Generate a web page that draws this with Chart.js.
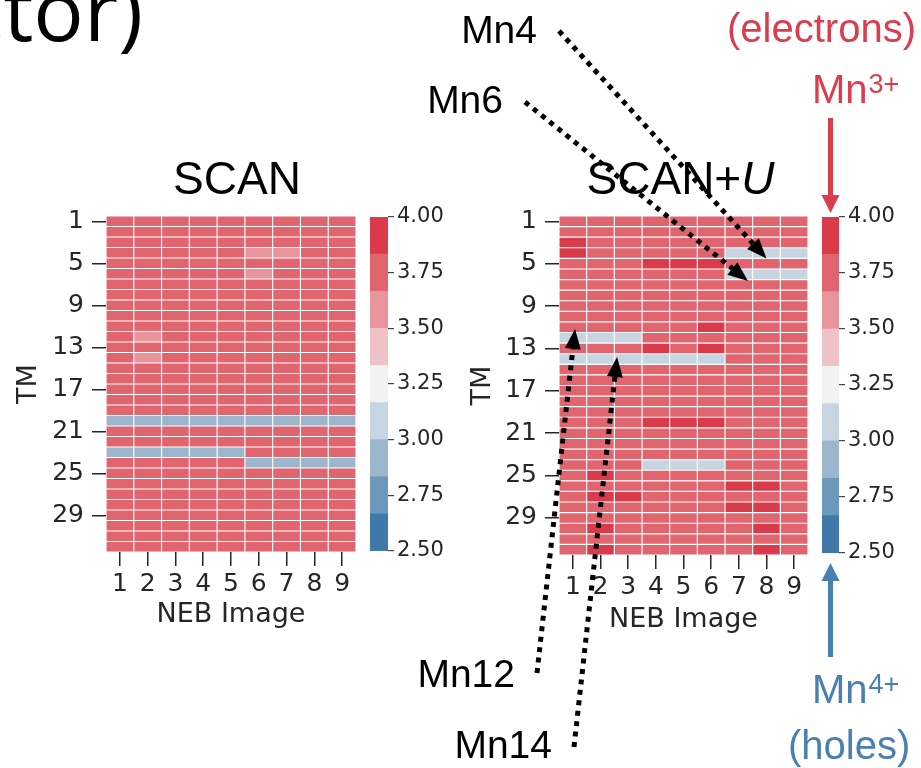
<!DOCTYPE html>
<html>
<head>
<meta charset="utf-8">
<script src="https://cdn.jsdelivr.net/npm/chart.js@4.4.1/dist/chart.umd.min.js"></script>
<style>
  html, body { margin: 0; padding: 0; background: #fff; }
  #figure { position: relative; width: 921px; height: 768px; overflow: hidden; background: #fff; }
  #figure canvas { position: absolute; left: 0; top: 0; }
</style>
</head>
<body>
<div id="figure">
  <canvas id="scan-map" width="921" height="768"></canvas>
  <canvas id="scan-bar" width="921" height="768"></canvas>
  <canvas id="scanu-map" width="921" height="768"></canvas>
  <canvas id="scanu-bar" width="921" height="768"></canvas>
</div>
<script>
// Mn moments per TM site (rows) and NEB image (columns)
const tmLabels = ['1', '2', '3', '4', '5', '6', '7', '8', '9', '10', '11', '12', '13', '14', '15', '16',
  '17', '18', '19', '20', '21', '22', '23', '24', '25', '26', '27', '28', '29', '30', '31', '32'];
const tmTicks = [1, 5, 9, 13, 17, 21, 25, 29];
const nebImages = [1, 2, 3, 4, 5, 6, 7, 8, 9];

const cbMin = 2.5;
const cbMax = 4.0;
const cbTicks = [2.5, 2.75, 3.0, 3.25, 3.5, 3.75, 4.0];
const cbColors = ['#4079a9', '#6b98bb', '#9bb6cd', '#c6d5e1', '#f2f2f2', '#efc2c8', '#e8949b', '#e0656f', '#d93b4a'];

const scanMoments = [
  [3.75, 3.75, 3.75, 3.75, 3.75, 3.75, 3.75, 3.75, 3.75],
  [3.75, 3.75, 3.75, 3.75, 3.75, 3.75, 3.75, 3.75, 3.75],
  [3.75, 3.75, 3.75, 3.75, 3.75, 3.75, 3.75, 3.75, 3.75],
  [3.75, 3.75, 3.75, 3.75, 3.75, 3.60, 3.60, 3.75, 3.75],
  [3.75, 3.75, 3.75, 3.75, 3.75, 3.75, 3.75, 3.75, 3.75],
  [3.75, 3.75, 3.75, 3.75, 3.75, 3.60, 3.75, 3.75, 3.75],
  [3.75, 3.75, 3.75, 3.75, 3.75, 3.75, 3.75, 3.75, 3.75],
  [3.75, 3.75, 3.75, 3.75, 3.75, 3.75, 3.75, 3.75, 3.75],
  [3.75, 3.75, 3.75, 3.75, 3.75, 3.75, 3.75, 3.75, 3.75],
  [3.75, 3.75, 3.75, 3.75, 3.75, 3.75, 3.75, 3.75, 3.75],
  [3.75, 3.75, 3.75, 3.75, 3.75, 3.75, 3.75, 3.75, 3.75],
  [3.75, 3.60, 3.75, 3.75, 3.75, 3.75, 3.75, 3.75, 3.75],
  [3.75, 3.75, 3.75, 3.75, 3.75, 3.75, 3.75, 3.75, 3.75],
  [3.75, 3.60, 3.75, 3.75, 3.75, 3.75, 3.75, 3.75, 3.75],
  [3.75, 3.75, 3.75, 3.75, 3.75, 3.75, 3.75, 3.75, 3.75],
  [3.75, 3.75, 3.75, 3.75, 3.75, 3.75, 3.75, 3.75, 3.75],
  [3.75, 3.75, 3.75, 3.75, 3.75, 3.75, 3.75, 3.75, 3.75],
  [3.75, 3.75, 3.75, 3.75, 3.75, 3.75, 3.75, 3.75, 3.75],
  [3.75, 3.75, 3.75, 3.75, 3.75, 3.75, 3.75, 3.75, 3.75],
  [2.95, 2.95, 2.95, 2.95, 2.95, 2.95, 2.95, 2.95, 2.95],
  [3.75, 3.75, 3.75, 3.75, 3.75, 3.75, 3.75, 3.75, 3.75],
  [3.75, 3.75, 3.75, 3.75, 3.75, 3.75, 3.75, 3.75, 3.75],
  [2.95, 2.95, 2.95, 2.95, 2.95, 3.75, 3.75, 3.75, 3.75],
  [3.75, 3.75, 3.75, 3.75, 3.75, 2.95, 2.95, 2.95, 2.95],
  [3.75, 3.75, 3.75, 3.75, 3.75, 3.75, 3.75, 3.75, 3.75],
  [3.75, 3.75, 3.75, 3.75, 3.75, 3.75, 3.75, 3.75, 3.75],
  [3.75, 3.75, 3.75, 3.75, 3.75, 3.75, 3.75, 3.75, 3.75],
  [3.75, 3.75, 3.75, 3.75, 3.75, 3.75, 3.75, 3.75, 3.75],
  [3.75, 3.75, 3.75, 3.75, 3.75, 3.75, 3.75, 3.75, 3.75],
  [3.75, 3.75, 3.75, 3.75, 3.75, 3.75, 3.75, 3.75, 3.75],
  [3.75, 3.75, 3.75, 3.75, 3.75, 3.75, 3.75, 3.75, 3.75],
  [3.75, 3.75, 3.75, 3.75, 3.75, 3.75, 3.75, 3.75, 3.75]
];

const scanUMoments = [
  [3.75, 3.75, 3.75, 3.75, 3.75, 3.75, 3.75, 3.75, 3.75],
  [3.75, 3.75, 3.75, 3.75, 3.75, 3.75, 3.75, 3.75, 3.75],
  [3.90, 3.75, 3.75, 3.75, 3.75, 3.75, 3.75, 3.75, 3.75],
  [3.90, 3.75, 3.75, 3.75, 3.75, 3.75, 3.10, 3.10, 3.10],
  [3.75, 3.75, 3.75, 3.90, 3.90, 3.90, 3.75, 3.75, 3.75],
  [3.75, 3.75, 3.75, 3.75, 3.75, 3.75, 3.10, 3.10, 3.10],
  [3.75, 3.75, 3.75, 3.75, 3.75, 3.75, 3.75, 3.75, 3.75],
  [3.75, 3.75, 3.75, 3.75, 3.75, 3.75, 3.75, 3.75, 3.75],
  [3.75, 3.75, 3.75, 3.75, 3.75, 3.75, 3.75, 3.75, 3.75],
  [3.75, 3.75, 3.75, 3.75, 3.75, 3.75, 3.75, 3.75, 3.75],
  [3.75, 3.75, 3.75, 3.75, 3.75, 3.90, 3.75, 3.75, 3.75],
  [3.10, 3.10, 3.10, 3.75, 3.75, 3.75, 3.75, 3.75, 3.75],
  [3.75, 3.75, 3.75, 3.90, 3.75, 3.90, 3.75, 3.75, 3.75],
  [3.10, 3.10, 3.10, 3.10, 3.10, 3.10, 3.75, 3.75, 3.75],
  [3.75, 3.75, 3.75, 3.75, 3.75, 3.75, 3.75, 3.75, 3.75],
  [3.75, 3.75, 3.75, 3.75, 3.75, 3.75, 3.75, 3.75, 3.75],
  [3.75, 3.75, 3.75, 3.75, 3.75, 3.75, 3.75, 3.75, 3.75],
  [3.75, 3.75, 3.75, 3.75, 3.75, 3.75, 3.75, 3.75, 3.75],
  [3.75, 3.75, 3.75, 3.75, 3.75, 3.75, 3.75, 3.75, 3.75],
  [3.75, 3.75, 3.75, 3.90, 3.90, 3.90, 3.75, 3.75, 3.75],
  [3.75, 3.75, 3.75, 3.75, 3.75, 3.75, 3.75, 3.75, 3.75],
  [3.75, 3.75, 3.75, 3.75, 3.75, 3.75, 3.75, 3.75, 3.75],
  [3.75, 3.75, 3.75, 3.75, 3.75, 3.75, 3.75, 3.75, 3.75],
  [3.75, 3.75, 3.75, 3.10, 3.10, 3.10, 3.75, 3.75, 3.75],
  [3.75, 3.90, 3.75, 3.75, 3.75, 3.75, 3.75, 3.75, 3.75],
  [3.75, 3.75, 3.75, 3.75, 3.75, 3.75, 3.90, 3.90, 3.75],
  [3.75, 3.90, 3.90, 3.75, 3.75, 3.75, 3.75, 3.75, 3.75],
  [3.75, 3.75, 3.75, 3.75, 3.75, 3.75, 3.90, 3.90, 3.75],
  [3.75, 3.75, 3.75, 3.75, 3.75, 3.75, 3.75, 3.75, 3.75],
  [3.75, 3.90, 3.75, 3.75, 3.75, 3.75, 3.75, 3.90, 3.75],
  [3.75, 3.75, 3.75, 3.75, 3.75, 3.75, 3.75, 3.75, 3.75],
  [3.75, 3.90, 3.75, 3.75, 3.75, 3.75, 3.75, 3.90, 3.75]
];

// sites singled out in the SCAN+U panel: label and the (image, row) the arrow points at
const siteNames = ['Mn4', 'Mn6', 'Mn12', 'Mn14'];
const siteTargets = [[8.0, 4.5], [7.33, 6.64], [1.08, 11.17], [2.6, 13.8]];

const TEXT = '#262626';
const RED = '#dc3d4c';
const BLUE = '#4a80b0';
const SANS = '"Liberation Sans", Arial, Helvetica, sans-serif';
const TICK_FONT = { family: 'DejaVu Sans', size: 25 };
const AXIS_FONT = { family: 'DejaVu Sans', size: 27 };

function binColor(v) {
  const n = cbColors.length;
  let k = Math.floor((v - cbMin) / (cbMax - cbMin) * n);
  k = Math.max(0, Math.min(n - 1, k));
  return cbColors[k];
}

function dottedArrow(ctx, x0, y0, x1, y1) {
  const a = Math.atan2(y1 - y0, x1 - x0);
  const headLen = 20, headHalf = 8;
  const bx = x1 - headLen * Math.cos(a);
  const by = y1 - headLen * Math.sin(a);
  ctx.save();
  ctx.strokeStyle = '#000';
  ctx.fillStyle = '#000';
  ctx.lineWidth = 5;
  ctx.lineCap = 'butt';
  ctx.setLineDash([5, 5.5]);
  ctx.beginPath();
  ctx.moveTo(x0, y0);
  ctx.lineTo(bx, by);
  ctx.stroke();
  ctx.setLineDash([]);
  ctx.beginPath();
  ctx.moveTo(x1, y1);
  ctx.lineTo(bx + headHalf * Math.sin(a), by - headHalf * Math.cos(a));
  ctx.lineTo(bx - headHalf * Math.sin(a), by + headHalf * Math.cos(a));
  ctx.closePath();
  ctx.fill();
  ctx.restore();
}

function solidArrow(ctx, x, y0, y1, color) {
  const dir = y1 > y0 ? 1 : -1;
  const headLen = 18, headHalf = 9;
  ctx.save();
  ctx.strokeStyle = color;
  ctx.fillStyle = color;
  ctx.lineWidth = 5;
  ctx.beginPath();
  ctx.moveTo(x, y0);
  ctx.lineTo(x, y1 - dir * headLen);
  ctx.stroke();
  ctx.beginPath();
  ctx.moveTo(x, y1);
  ctx.lineTo(x - headHalf, y1 - dir * headLen);
  ctx.lineTo(x + headHalf, y1 - dir * headLen);
  ctx.closePath();
  ctx.fill();
  ctx.restore();
}

function ionLabel(ctx, x, y, base, sup, color) {
  ctx.fillStyle = color;
  ctx.textAlign = 'left';
  ctx.textBaseline = 'alphabetic';
  ctx.font = '40px ' + SANS;
  ctx.fillText(base, x, y);
  const w = ctx.measureText(base).width;
  ctx.font = '27px ' + SANS;
  ctx.fillText(sup, x + w + 1, y - 10);
}

// panel title, optionally with an italic tail ("SCAN+" + italic "U")
function panelTitle(text, italicTail, dx) {
  return {
    id: 'panelTitle',
    afterDraw(chart) {
      const ctx = chart.ctx;
      const area = chart.chartArea;
      ctx.save();
      ctx.fillStyle = '#000';
      ctx.textBaseline = 'alphabetic';
      ctx.textAlign = 'left';
      ctx.font = '46px ' + SANS;
      const w1 = ctx.measureText(text).width;
      ctx.font = 'italic 46px ' + SANS;
      const w2 = italicTail ? ctx.measureText(italicTail).width : 0;
      const x = (area.left + area.right) / 2 + dx - (w1 + w2) / 2;
      const y = area.top - 22;
      ctx.font = '46px ' + SANS;
      ctx.fillText(text, x, y);
      if (italicTail) {
        ctx.font = 'italic 46px ' + SANS;
        ctx.fillText(italicTail, x + w1, y);
      }
      ctx.restore();
    }
  };
}

function heatmap(canvasId, values, box, plugins) {
  const datasets = nebImages.map((img, c) => ({
    label: 'NEB ' + img,
    data: values.map(() => [img - 0.5, img + 0.5]),
    backgroundColor: values.map((row) => binColor(row[c])),
    borderColor: '#ffffff',
    borderWidth: 0.9,
    borderSkipped: false,
    barPercentage: 1,
    categoryPercentage: 1,
    grouped: false
  }));

  return new Chart(document.getElementById(canvasId), {
    type: 'bar',
    data: { labels: tmLabels, datasets: datasets },
    options: {
      responsive: false,
      animation: false,
      devicePixelRatio: 1,
      events: [],
      indexAxis: 'y',
      layout: {
        padding: {
          left: box.left - box.yAxisW,
          top: box.top,
          right: 921 - box.right,
          bottom: 768 - box.bottom - box.xAxisH
        }
      },
      plugins: { legend: { display: false }, tooltip: { enabled: false } },
      scales: {
        x: {
          type: 'linear',
          position: 'bottom',
          min: 0.5,
          max: 9.5,
          bounds: 'data',
          afterBuildTicks: (axis) => { axis.ticks = nebImages.map((v) => ({ value: v })); },
          afterFit: (axis) => { axis.height = box.xAxisH; },
          border: { display: false },
          grid: { drawOnChartArea: false, drawTicks: true, tickLength: 14, color: TEXT, lineWidth: 1.5 },
          ticks: { color: TEXT, font: TICK_FONT, padding: 3, maxRotation: 0, autoSkip: false },
          title: { display: true, text: 'NEB Image', color: TEXT, font: AXIS_FONT, padding: 0 }
        },
        y: {
          type: 'category',
          offset: true,
          afterBuildTicks: (axis) => { axis.ticks = tmTicks.map((t) => ({ value: t - 1 })); },
          afterFit: (axis) => { axis.width = box.yAxisW; },
          border: { display: false },
          grid: { offset: false, drawOnChartArea: false, drawTicks: true, tickLength: 14, color: TEXT, lineWidth: 1.5 },
          ticks: { color: TEXT, font: TICK_FONT, padding: 8, autoSkip: false },
          title: { display: true, text: 'TM', color: TEXT, font: AXIS_FONT, padding: 0 }
        }
      }
    },
    plugins: plugins
  });
}

function colorbar(canvasId, box, plugins) {
  const datasets = cbColors.map((col, k) => {
    const step = (cbMax - cbMin) / cbColors.length;
    return {
      label: 'bin ' + k,
      data: [[cbMin + k * step, cbMin + (k + 1) * step]],
      backgroundColor: col,
      borderWidth: 0,
      barPercentage: 1,
      categoryPercentage: 1,
      grouped: false
    };
  });

  return new Chart(document.getElementById(canvasId), {
    type: 'bar',
    data: { labels: [''], datasets: datasets },
    options: {
      responsive: false,
      animation: false,
      devicePixelRatio: 1,
      events: [],
      layout: {
        padding: { left: box.left, top: box.top, right: 921 - box.right - box.axisW, bottom: 768 - box.bottom }
      },
      plugins: { legend: { display: false }, tooltip: { enabled: false } },
      scales: {
        x: { type: 'category', display: false, offset: true },
        y: {
          type: 'linear',
          position: 'right',
          min: cbMin,
          max: cbMax,
          bounds: 'data',
          afterBuildTicks: (axis) => { axis.ticks = cbTicks.map((v) => ({ value: v })); },
          afterFit: (axis) => { axis.width = box.axisW; },
          border: { display: false },
          grid: { drawOnChartArea: false, drawTicks: true, tickLength: 6, color: '#444', lineWidth: 1.2 },
          ticks: {
            color: TEXT,
            font: { family: 'DejaVu Sans', size: 21 },
            padding: 3,
            callback: (v) => Number(v).toFixed(2)
          }
        }
      }
    },
    plugins: plugins
  });
}

// cut-off heading text running off the top-left corner
const headingTail = {
  id: 'headingTail',
  afterDraw(chart) {
    const ctx = chart.ctx;
    ctx.save();
    ctx.fillStyle = '#000';
    ctx.font = '84px "Open Sans", sans-serif';
    ctx.textAlign = 'right';
    ctx.textBaseline = 'alphabetic';
    ctx.fillText('ctor)', 143, 41);
    ctx.restore();
  }
};

// dotted pointers from the site names to cells of the SCAN+U map
const sitePointers = {
  id: 'sitePointers',
  afterDraw(chart) {
    const ctx = chart.ctx;
    const xs = chart.scales.x;
    const ys = chart.scales.y;
    const labelAt = [[537, 43], [503, 113], [515, 687], [552, 758]];
    const lineFrom = [[559, 31], [525, 102], [537, 673], [574, 747]];
    ctx.save();
    ctx.fillStyle = '#000';
    ctx.font = '39px ' + SANS;
    ctx.textAlign = 'right';
    ctx.textBaseline = 'alphabetic';
    siteNames.forEach((name, i) => {
      ctx.fillText(name, labelAt[i][0], labelAt[i][1]);
    });
    siteTargets.forEach((t, i) => {
      const tx = xs.getPixelForValue(t[0]);
      const ty = ys.getPixelForValue(t[1] - 1);
      dottedArrow(ctx, lineFrom[i][0], lineFrom[i][1], tx, ty);
    });
    ctx.restore();
  }
};

// Mn3+ / Mn4+ markers at the two ends of the SCAN+U colour bar
const chargeMarkers = {
  id: 'chargeMarkers',
  afterDraw(chart) {
    const ctx = chart.ctx;
    const area = chart.chartArea;
    const cx = (area.left + area.right) / 2;
    ctx.save();
    ctx.font = '40px ' + SANS;
    ctx.fillStyle = RED;
    ctx.textAlign = 'left';
    ctx.textBaseline = 'alphabetic';
    ctx.fillText('(electrons)', 727, 42);
    ionLabel(ctx, 812, 103, 'Mn', '3+', RED);
    solidArrow(ctx, cx, 118, area.top - 4, RED);

    solidArrow(ctx, cx, 657, area.bottom + 10, BLUE);
    ionLabel(ctx, 812, 703, 'Mn', '4+', BLUE);
    ctx.font = '40px ' + SANS;
    ctx.fillStyle = BLUE;
    ctx.fillText('(holes)', 788, 759);
    ctx.restore();
  }
};

heatmap('scan-map', scanMoments,
  { left: 106, top: 216, right: 356, bottom: 552, yAxisW: 93, xAxisH: 79 },
  [panelTitle('SCAN', '', 6), headingTail]);
colorbar('scan-bar', { left: 370, top: 217, right: 388, bottom: 551, axisW: 80 }, []);
heatmap('scanu-map', scanUMoments,
  { left: 559, top: 216, right: 808, bottom: 555, yAxisW: 92, xAxisH: 81 },
  [panelTitle('SCAN+', 'U', -3), sitePointers]);
colorbar('scanu-bar', { left: 822, top: 217, right: 839, bottom: 553, axisW: 80 }, [chargeMarkers]);
</script>
</body>
</html>
